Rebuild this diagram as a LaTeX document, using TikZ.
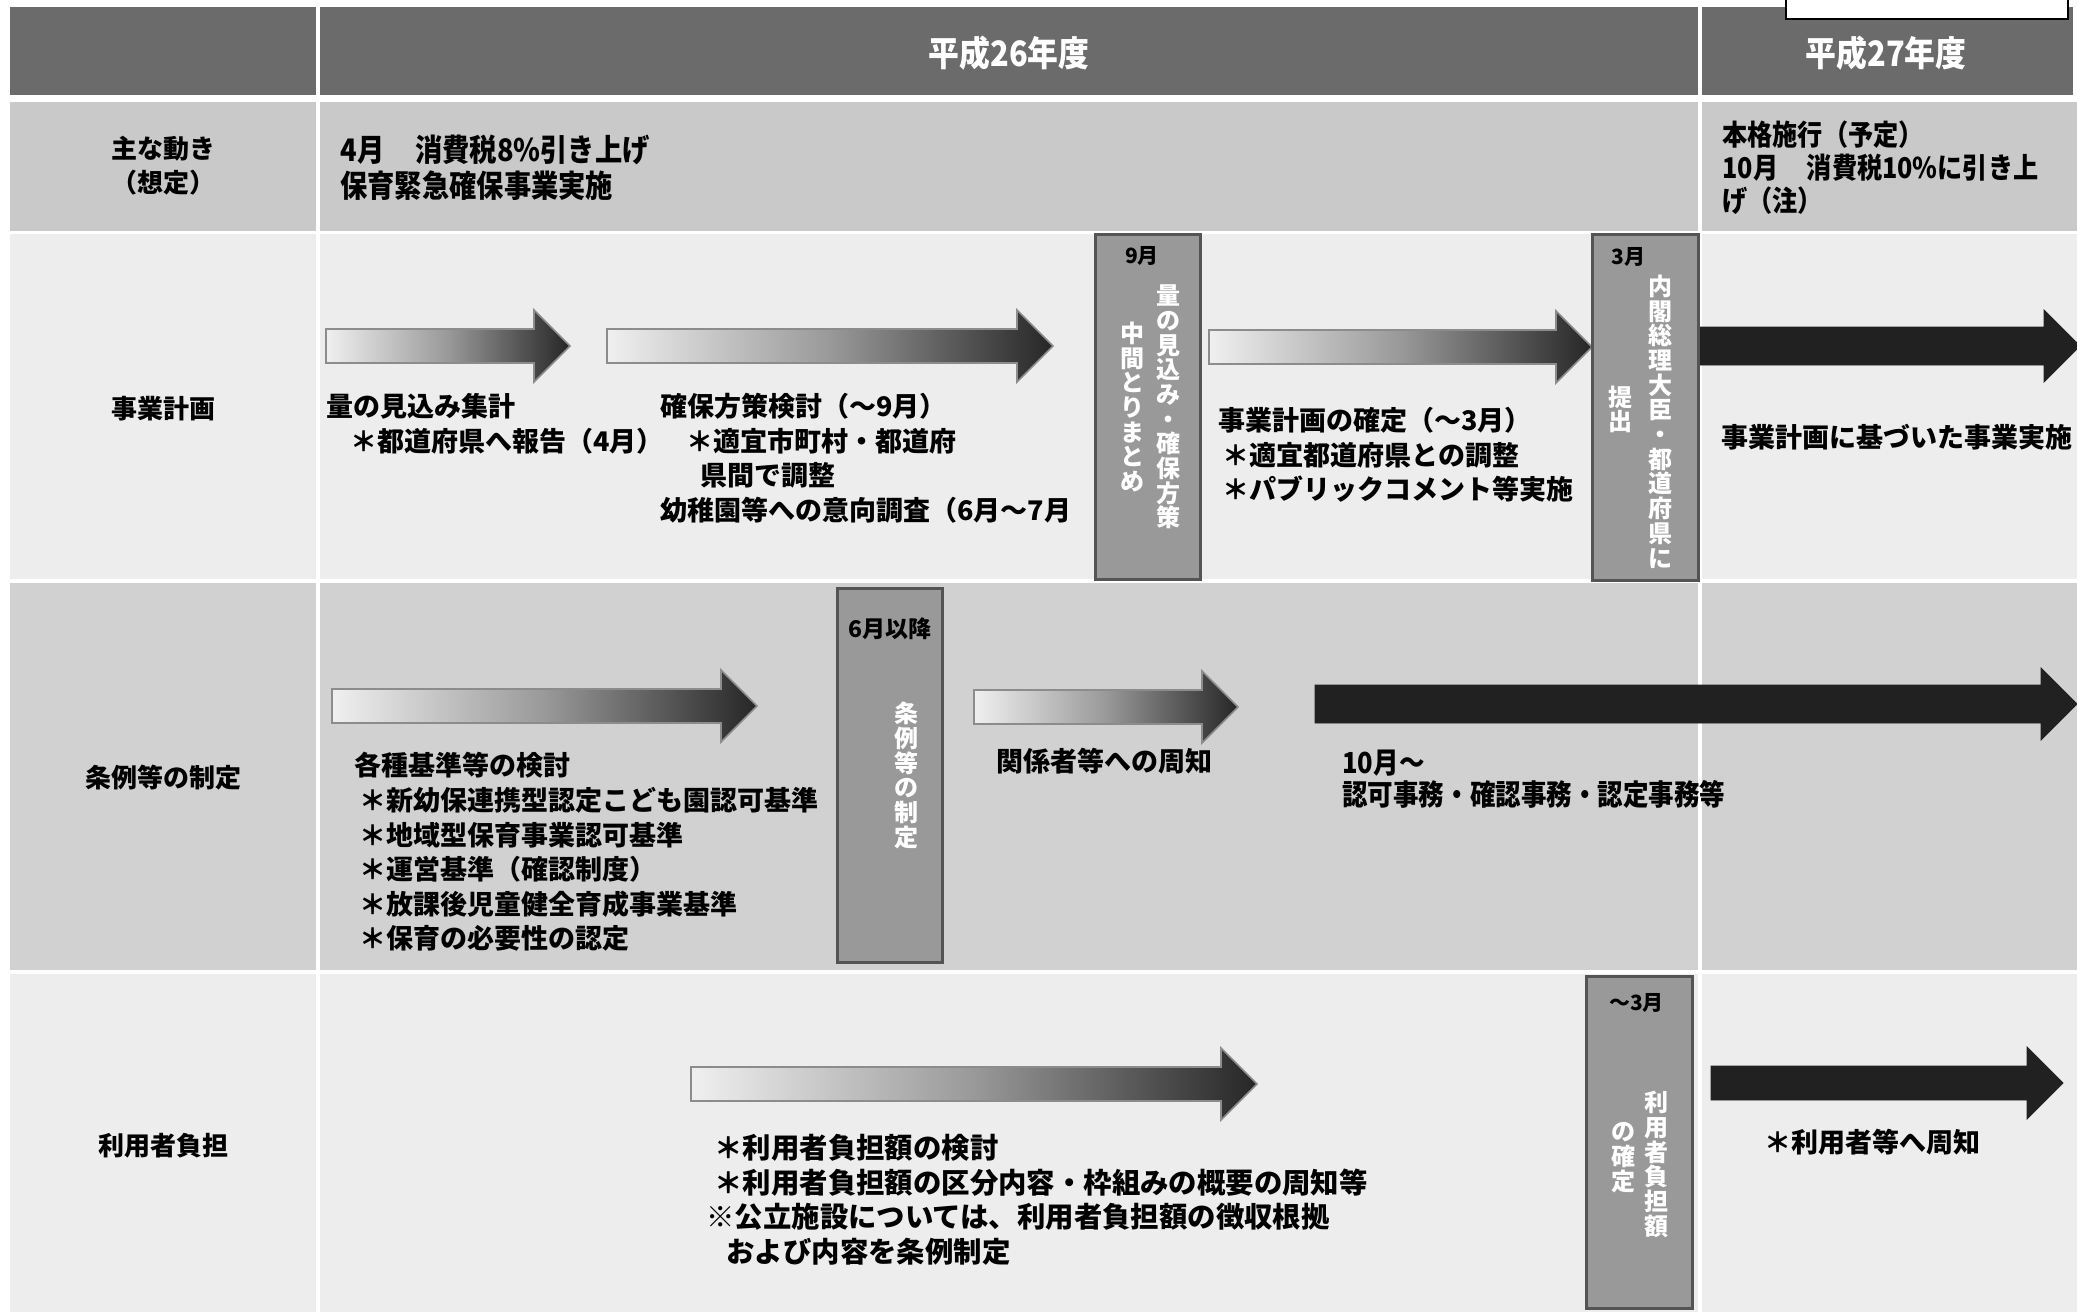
\documentclass[tikz,border=0pt]{standalone}
\usepackage{fontspec}
\setmainfont{Noto Sans CJK JP}
\newfontfamily\condfont{Noto Sans CJK JP}[FakeStretch=0.88]
\definecolor{hdrgray}{gray}{0.42}
\definecolor{moverow}{gray}{0.79}
\definecolor{lightrow}{gray}{0.93}
\definecolor{midrow}{gray}{0.82}
\definecolor{boxgray}{gray}{0.60}
\definecolor{boxline}{gray}{0.33}
\definecolor{arrowdark}{gray}{0.13}
\newcommand{\blockarrow}[5]{%
  \path[#1] (#2,#4-#5) -- (#3-36,#4-#5) -- (#3-36,#4-36) -- (#3,#4)
    -- (#3-36,#4+36) -- (#3-36,#4+#5) -- (#2,#4+#5) -- cycle;}

\begin{document}
\begin{tikzpicture}[x=0.5pt, y=-0.5pt,
  every node/.style={inner sep=0pt},
  txt/.style={anchor=north west, align=left, font=\fontsize{13.5}{17.3}\selectfont\bfseries},
  line/.style={anchor=west, font=\fontsize{13.5}{17.3}\selectfont\bfseries},
  rowlbl/.style={align=center, font=\fontsize{13}{17}\selectfont\bfseries},
  yearlbl/.style={text=white, font=\condfont\fontsize{17.5}{20}\selectfont\bfseries},
  monthlbl/.style={font=\fontsize{10.5}{12}\selectfont\bfseries},
  vtext/.style={text=white, align=center, font=\fontsize{12}{12.35}\selectfont\bfseries},
  evtbox/.style={fill=boxgray, draw=boxline, line width=1.5pt, anchor=north west},
  garrow/.style={left color=black!6, right color=black!85, middle color=black!40,
                 draw=black!45, line width=0.8pt},
  darrow/.style={fill=arrowdark, draw=arrowdark}
]
\useasboundingbox (0,0) rectangle (2077,1312);
\fill[white] (0,0) rectangle (2077,1312);

\fill[hdrgray] (10,7) rectangle (316,95);
\fill[hdrgray] (320,7) rectangle (1698,95);
\fill[hdrgray] (1702,7) rectangle (2073,95);
\fill[moverow] (10,102) rectangle (316,231);
\fill[moverow] (320,102) rectangle (1698,231);
\fill[moverow] (1702,102) rectangle (2077,231);
\fill[lightrow] (10,234) rectangle (316,579);
\fill[lightrow] (320,234) rectangle (1698,579);
\fill[lightrow] (1702,234) rectangle (2077,579);
\fill[midrow] (10,583) rectangle (316,970);
\fill[midrow] (320,583) rectangle (1698,970);
\fill[midrow] (1702,583) rectangle (2077,970);
\fill[lightrow] (10,974) rectangle (316,1312);
\fill[lightrow] (320,974) rectangle (1698,1312);
\fill[lightrow] (1702,974) rectangle (2077,1312);
\draw[fill=white, line width=1pt] (1786,-4) rectangle (2068,19);

\node[yearlbl] (y26) at (1009,53) {平成26年度};
\node[yearlbl] (y27) at (1886,53) {平成27年度};

\node[rowlbl] (lmove) at (163,166) {主な動き\\（想定）};
\node[rowlbl] (lplan) at (163,409) {事業計画};
\node[rowlbl] (lrule) at (163,778) {条例等の制定};
\node[rowlbl] (lfee)  at (163,1146) {利用者負担};

\node[txt, font=\condfont\fontsize{15.5}{18}\selectfont\bfseries] (mv1) at (340,135)
  {4月\hspace{1em}消費税8\%引き上げ\\保育緊急確保事業実施};
\node[txt, font=\condfont\fontsize{14.3}{16.5}\selectfont\bfseries] (mv2) at (1722,120)
  {本格施行（予定）\\10月\hspace{1em}消費税10\%に引き上\\げ（注）};

\blockarrow{garrow}{326}{570}{346}{17}
\blockarrow{garrow}{607}{1053}{346}{17}
\blockarrow{garrow}{1209}{1592}{347}{17}
\blockarrow{darrow}{1699}{2080}{346}{19}
\blockarrow{garrow}{332}{757}{706}{17}
\blockarrow{garrow}{974}{1238}{707}{17}
\blockarrow{darrow}{1315}{2077}{704}{19}
\blockarrow{garrow}{691}{1257}{1084}{17}
\blockarrow{darrow}{1711}{2063}{1083}{17}

\node[txt] (est) at (326,393)
  {量の見込み集計\\\hspace*{12pt}＊都道府県へ報告（4月）};
\node[txt] (sec) at (660,393)
  {確保方策検討（～9月）\\\hspace*{13pt}＊適宜市町村・都道府\\\hspace*{20pt}県間で調整\\幼稚園等への意向調査（6月～7月};
\node[txt] (fix) at (1218,407)
  {事業計画の確定（～3月）\\\hspace*{2pt}＊適宜都道府県との調整\\\hspace*{2pt}＊パブリックコメント等実施};
\node[line] (impl) at (1721,437) {事業計画に基づいた事業実施};

\node[txt] (crit) at (354,752)
  {各種基準等の検討\\\hspace*{2.5pt}＊新幼保連携型認定こども園認可基準\\\hspace*{2.5pt}＊地域型保育事業認可基準\\\hspace*{2.5pt}＊運営基準（確認制度）\\\hspace*{2.5pt}＊放課後児童健全育成事業基準\\\hspace*{2.5pt}＊保育の必要性の認定};
\node[line] (notify) at (996,761) {関係者等への周知};
\node[txt, font=\condfont\fontsize{14.5}{16}\selectfont\bfseries] (admin) at (1342,750) {10月～\\認可事務・確認事務・認定事務等};

\node[txt, font=\fontsize{14.2}{17.3}\selectfont\bfseries] (fee) at (706,1134)
  {\hspace*{4pt}＊利用者負担額の検討\\\hspace*{4pt}＊利用者負担額の区分内容・枠組みの概要の周知等\\※公立施設については、利用者負担額の徴収根拠\\\hspace*{10pt}および内容を条例制定};
\node[line] (feeinfo) at (1764,1142) {＊利用者等へ周知};

\node[evtbox, minimum width=52.5pt, minimum height=172.5pt] (b9) at (1094,233) {};
\node[monthlbl] (m9) at ([xshift=-3pt,yshift=-11.5pt]b9.north) {9月};
\node[vtext] (v9a) at ([xshift=10.25pt]b9.center) {量\\の\\見\\込\\み\\・\\確\\保\\方\\策};
\node[vtext] (v9b) at ([xshift=-7.75pt]b9.center) {中\\間\\と\\り\\ま\\と\\め};

\node[evtbox, minimum width=53pt, minimum height=173pt] (b3) at (1591,233) {};
\node[monthlbl] (m3) at ([xshift=-8.5pt,yshift=-12pt]b3.north) {3月};
\node[vtext] (v3a) at ([xshift=7.5pt,yshift=-7pt]b3.center) {内\\閣\\総\\理\\大\\臣\\・\\都\\道\\府\\県\\に};
\node[vtext] (v3b) at ([xshift=-12.5pt,yshift=-1pt]b3.center) {提\\出};

\node[evtbox, minimum width=52.5pt, minimum height=187pt] (b6) at (836,587) {};
\node[monthlbl, font=\fontsize{11.5}{12}\selectfont\bfseries] (m6) at ([yshift=-21pt]b6.north) {6月以降};
\node[vtext] (v6) at ([xshift=8.25pt]b6.center) {条\\例\\等\\の\\制\\定};

\node[evtbox, minimum width=53pt, minimum height=166pt] (bf) at (1585,975) {};
\node[monthlbl] (mf) at ([xshift=-1.5pt,yshift=-14pt]bf.north) {～3月};
\node[vtext] (vfa) at ([xshift=8.5pt,yshift=-11pt]bf.center) {利\\用\\者\\負\\担\\額};
\node[vtext] (vfb) at ([xshift=-8pt,yshift=-7.5pt]bf.center) {の\\確\\定};
\end{tikzpicture}
\end{document}
